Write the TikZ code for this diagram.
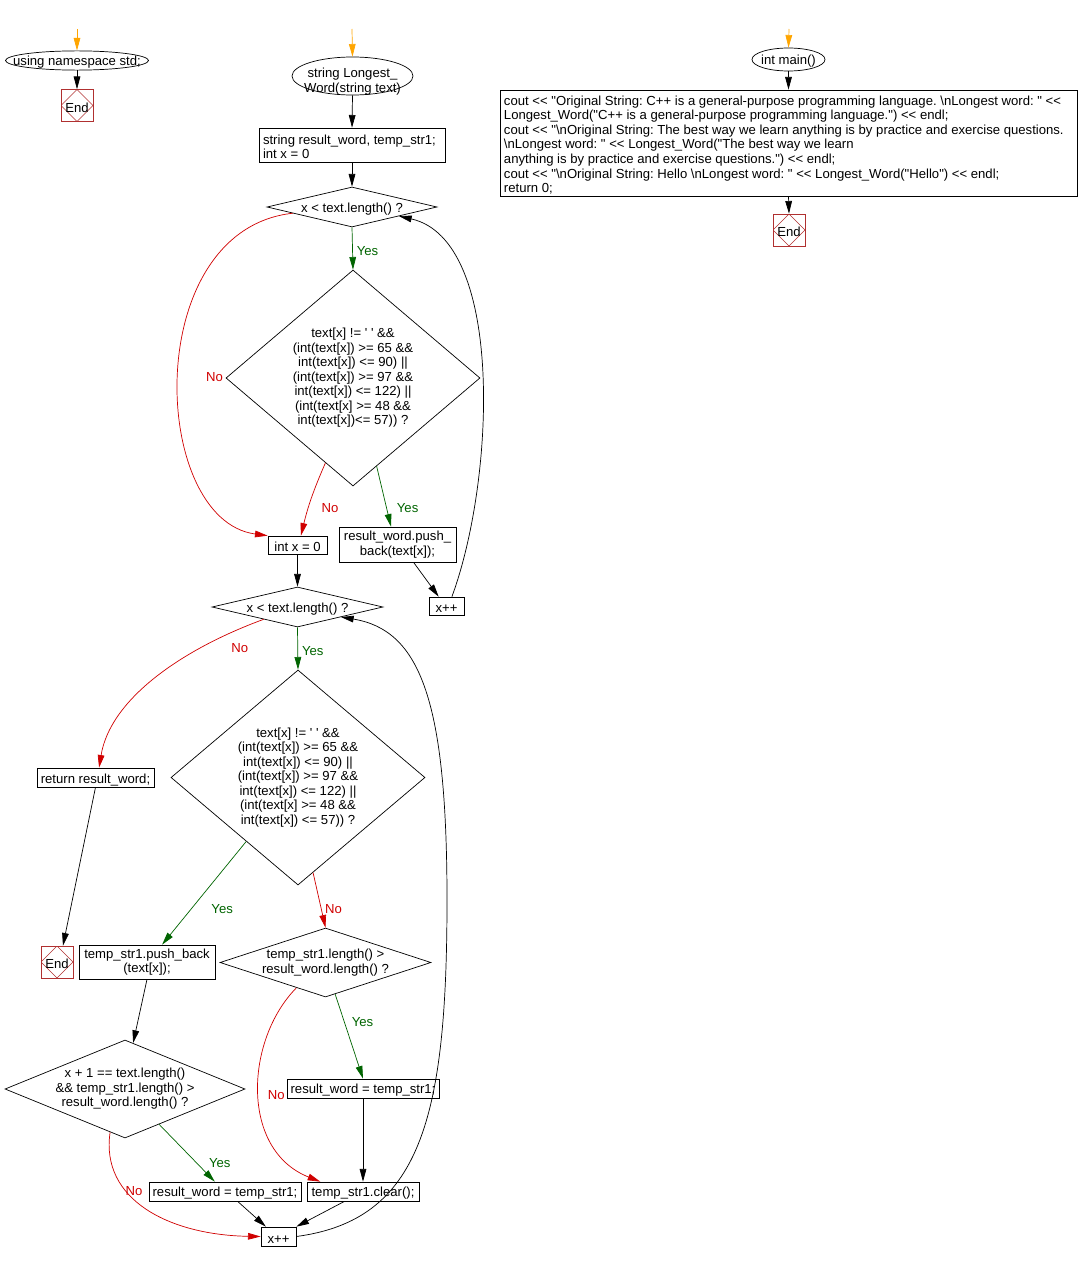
\documentclass[tikz,border=0pt]{standalone}
\usepackage{fontspec}
\setmainfont{Liberation Sans}[Ligatures=TeXOff]
\usetikzlibrary{shapes.geometric,arrows.meta}
\frenchspacing

\definecolor{endred}{HTML}{B03030}
\definecolor{yesgreen}{HTML}{006400}
\definecolor{nored}{HTML}{D00000}
\definecolor{startorange}{HTML}{FFA500}
\newcommand{\pu}{0.03cm}

\tikzset{
	sz/.style 2 args={minimum width=#1*\pu, minimum height=#2*\pu},
	txt/.style={execute at begin node={\rule{0pt}{11.6pt}}},
	box/.style={draw, rectangle, inner sep=1pt, align=center},
	cond/.style={draw, diamond, inner sep=-2pt, align=center},
	startell/.style={draw, ellipse, inner sep=0pt, execute at begin node={}},
	endbox/.style={draw=endred, rectangle, inner sep=0pt, sz={32}{32},
		path picture={\draw[endred, line width=0.4pt] (path picture bounding box.north) -- (path picture bounding box.east) -- (path picture bounding box.south) -- (path picture bounding box.west) -- cycle;}},
	flow/.style={-{Triangle[length=0.38cm, width=0.2cm]}},
	yesarrow/.style={flow, yesgreen},
	noarrow/.style={flow, nored},
	startarrow/.style={flow, startorange},
}

\begin{document}
\begin{tikzpicture}[x=\pu, y=-\pu, line width=0.6pt, font=\fontsize{11.2}{12.4}\selectfont, every node/.append style={txt}]
	\useasboundingbox (0,0) rectangle (1078,1262);

	\coordinate (s1) at (77,29);
	\coordinate (s2) at (352,29);
	\coordinate (s3) at (789,29);

	\node[startell, sz={143}{17}, label={center:using namespace std;}] (ns) at (77,60.5) {};
	\node[endbox] (end1) at (77,105.5) {End};

	\node[startell, sz={121}{38}, label={[align=center, yshift=-0.17cm]center:string Longest\_\\Word(string text)}] (fn) at (352.5,76) {};
	\node[box, sz={186}{34}, align=flush left, text width=5.34cm, inner xsep=0.12cm] (init) at (352,145) {string result\_word, temp\_str1;\\int x = 0};
	\node[cond, sz={170}{40}, shape aspect=4.25] (d1) at (352,207) {x < text.length() ?};
	\node[cond, sz={254}{216}, shape aspect=1.18] (d2) at (353,378) {text[x] != ' ' \&\&\\(int(text[x]) >= 65 \&\&\\int(text[x]) <= 90) ||\\(int(text[x]) >= 97 \&\&\\int(text[x]) <= 122) ||\\(int(text[x] >= 48 \&\&\\int(text[x])<= 57)) ?};
	\node[box, sz={59}{18}] (ix) at (297.5,545) {int x = 0};
	\node[box, sz={117}{35}] (pb) at (397.5,544.5) {result\_word.push\_\\back(text[x]);};
	\node[box, sz={35}{18}] (xp1) at (446.5,606) {x++};
	\node[cond, sz={171}{40}, shape aspect=4.25] (d3) at (297.5,607) {x < text.length() ?};
	\node[cond, sz={254}{215}, shape aspect=1.18] (d4) at (298,777.5) {text[x] != ' ' \&\&\\(int(text[x]) >= 65 \&\&\\int(text[x]) <= 90) ||\\(int(text[x]) >= 97 \&\&\\int(text[x]) <= 122) ||\\(int(text[x] >= 48 \&\&\\int(text[x]) <= 57)) ?};
	\node[box, sz={117}{19}] (rt) at (95.5,777.5) {return result\_word;};
	\node[endbox] (end2) at (57,962) {End};
	\node[box, sz={136}{34}] (tp) at (147,962) {temp\_str1.push\_back\\(text[x]);};
	\node[cond, sz={211}{69}, shape aspect=3] (d5) at (325.5,962.5) {temp\_str1.length() >\\result\_word.length() ?};
	\node[cond, sz={240}{98}, shape aspect=2.45] (d6) at (125,1089) {x + 1 == text.length()\\\&\& temp\_str1.length() >\\result\_word.length() ?};
	\node[box, sz={152}{19}] (rw1) at (363,1088.5) {result\_word = temp\_str1;};
	\node[box, sz={112}{19}] (cl) at (363,1191.5) {temp\_str1.clear();};
	\node[box, sz={152}{19}] (rw2) at (225,1191.5) {result\_word = temp\_str1;};
	\node[box, sz={35}{19}] (xp2) at (278.5,1236.5) {x++};

	\node[startell, sz={73}{23}, label={center:int main()}] (mn) at (788.5,59.5) {};
	\node[box, sz={577}{106}, align=flush left, text width=17.07cm, inner xsep=0.12cm] (cb) at (788.5,143) {cout << "Original String: C++ is a general-purpose programming language. \textbackslash{}nLongest word: " <<\\Longest\_Word("C++ is a general-purpose programming language.") << endl;\\cout << "\textbackslash{}nOriginal String: The best way we learn anything is by practice and exercise questions.\\\textbackslash{}nLongest word: " << Longest\_Word("The best way we learn\\anything is by practice and exercise questions.") << endl;\\cout << "\textbackslash{}nOriginal String: Hello \textbackslash{}nLongest word: " << Longest\_Word("Hello") << endl;\\return 0;};
	\node[endbox] (end3) at (789,230) {End};

	\draw[startarrow] (s1) -- (ns.north);
	\draw[flow] (ns.south) -- (end1.north);

	\draw[startarrow] (s2) -- (fn.north);
	\draw[flow] (fn.south) -- (init.north);
	\draw[flow] (init.south) -- (d1.north);
	\draw[yesarrow] (d1.south) -- node[right] {Yes} (d2.north);
	\draw[noarrow] (d1.186) .. controls (140,230) and (150,520) .. node[pos=.5, right=0.69cm] {No} (ix.north west);
	\draw[noarrow] (d2.252) to[bend right=5] node[pos=.6, right=0.25cm] {No} (ix.70);
	\draw[yesarrow] (d2.285) -- node[pos=.65, right=0.2cm] {Yes} (pb.110);
	\draw[flow] (pb.-48) -- (xp1.130);
	\draw[flow] (xp1.60) .. controls (495,480) and (505,240) .. (d1.-11);

	\draw[flow] (ix.south) -- (d3.north);
	\draw[yesarrow] (d3.south) -- node[right] {Yes} (d4.north);
	\draw[noarrow] (d3.200) .. controls (180,650) and (110,700) .. node[pos=.25, right=0.69cm] {No} (rt.70);
	\draw[flow] (rt.south) -- (end2.70);
	\draw[yesarrow] (d4.231) -- node[pos=.63, right=0.42cm] {Yes} (tp.49);
	\draw[noarrow] (d4.279) -- node[pos=.62, right] {No} (d5.north);
	\draw[flow] (tp.south) -- (d6.80);
	\draw[yesarrow] (d5.287) -- node[pos=.3, right=0.12cm] {Yes} (rw1.north);
	\draw[noarrow] (d5.221) .. controls (245,1040) and (240,1150) .. node[pos=.5, right=0.14cm] {No} (cl.167);
	\draw[flow] (rw1.south) -- (cl.north);
	\draw[yesarrow] (d6.314) -- node[pos=.64, right=0.3cm] {Yes} (rw2.136);
	\draw[noarrow] (d6.251) .. controls (100,1200) and (170,1235) .. node[pos=.33, right=-0.08cm] {No} (xp2.west);
	\draw[flow] (rw2.-38) -- (xp2.142);
	\draw[flow] (cl.208) -- (xp2.north east);
	\draw[flow] (xp2.east) .. controls (420,1220) and (447,1120) .. (447,900) .. controls (447,700) and (420,630) .. (d3.-13);

	\draw[startarrow] (s3) -- (mn.north);
	\draw[flow] (mn.south) -- (cb.north);
	\draw[flow] (cb.south) -- (end3.north);
\end{tikzpicture}
\end{document}
